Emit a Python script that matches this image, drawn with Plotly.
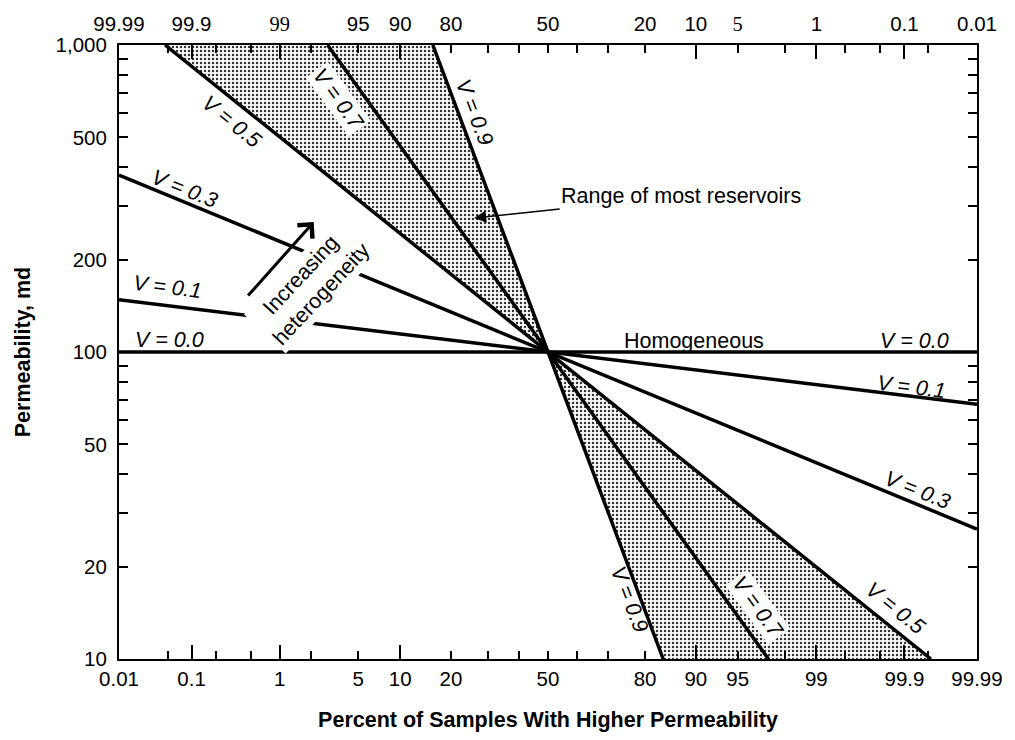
from math import log10
from statistics import NormalDist
import plotly.graph_objects as go

# Dykstra-Parsons permeability-variation lines on log-probability paper.
# Each line is given by its two end points: percent of samples with higher
# permeability, and permeability in md.
v_names = ["V = 0.0", "V = 0.1", "V = 0.3", "V = 0.5", "V = 0.7", "V = 0.9"]
start_pct = [0.01, 0.01, 0.01, 0.045, 2.8, 15.9]
start_k = [100, 148, 377, 1000, 1000, 1000]
end_pct = [99.99, 99.99, 99.99, 99.955, 97.2, 84.1]
end_k = [100, 67.6, 26.5, 10, 10, 10]
median_pct = 50
median_k = 100

# Probability-axis ticks (bottom percent; the top axis reads the complement)
bottom_ticks = [0.01, 0.1, 1, 5, 10, 20, 50, 80, 90, 95, 99, 99.9, 99.99]
bottom_labels = ["0.01", "0.1", "1", "5", "10", "20", "50", "80", "90", "95", "99", "99.9", "99.99"]
top_labels = ["99.99", "99.9", "<span style='font-family:Liberation Serif'>99</span>", "95", "90", "80", "50",
              "20", "10", "<span style='font-family:Liberation Serif'>5</span>", "1", "0.1", "0.01"]
minor_pct = [0.05, 0.2, 0.5, 2, 30, 40, 60, 70, 98, 99.5, 99.8, 99.95]
long_pct = [0.1, 1, 10, 90, 99, 99.9]

# Permeability axis ticks
k_ticks = [10, 20, 50, 100, 200, 500, 1000]
k_labels = ["10", "20", "50", "100", "200", "500", "1,000"]
k_minor = [30, 40, 60, 70, 80, 90, 300, 400, 600, 700, 800, 900]

ND = NormalDist()


def z(p):
    """Normal-probability scale position of a percentage."""
    return ND.inv_cdf(p / 100.0)


FONT = "Liberation Sans, Arial, sans-serif"
xr = [z(0.01), z(99.99)]
TXT = 21.5

fig = go.Figure()

# Stippled band between V = 0.5 and V = 0.9 ("range of most reservoirs")
i5, i9 = v_names.index("V = 0.5"), v_names.index("V = 0.9")
stipple = dict(shape=".", size=4, solidity=0.3, fgcolor="#333333", bgcolor="white", fillmode="replace")
fig.add_trace(go.Scatter(
    x=[z(start_pct[i5]), z(start_pct[i9]), z(median_pct), z(start_pct[i5])],
    y=[start_k[i5], start_k[i9], median_k, start_k[i5]],
    mode="lines", line=dict(width=0), fill="toself", fillcolor="white",
    fillpattern=stipple, hoverinfo="skip", showlegend=False))
fig.add_trace(go.Scatter(
    x=[z(median_pct), z(end_pct[i9]), z(end_pct[i5]), z(median_pct)],
    y=[median_k, end_k[i9], end_k[i5], median_k],
    mode="lines", line=dict(width=0), fill="toself", fillcolor="white",
    fillpattern=stipple, hoverinfo="skip", showlegend=False))

# The variation lines
for name, p0, k0, p1, k1 in zip(v_names, start_pct, start_k, end_pct, end_k):
    fig.add_trace(go.Scatter(
        x=[z(p0), z(p1)], y=[k0, k1], mode="lines", name=name,
        line=dict(color="black", width=3.5), showlegend=False))

# Invisible anchors so the overlay tick axes are drawn
for xa in ["x2", "x3"]:
    fig.add_trace(go.Scatter(x=[0], y=[100], xaxis=xa, yaxis="y", mode="markers",
                             marker=dict(size=1, opacity=0), hoverinfo="skip", showlegend=False))

tickfont = dict(family=FONT, size=20.5, color="black")

fig.update_layout(
    width=1015, height=740,
    margin=dict(l=119, r=32, t=42, b=77),
    paper_bgcolor="white", plot_bgcolor="white",
    xaxis=dict(
        range=xr, tickmode="array", tickvals=[z(p) for p in bottom_ticks], ticktext=bottom_labels,
        ticks="inside", ticklen=8, tickwidth=1.5, tickcolor="black",
        showline=True, linewidth=2, linecolor="black", mirror="allticks",
        showgrid=False, zeroline=False, tickfont=tickfont,
        minor=dict(tickmode="array", tickvals=[z(p) for p in minor_pct], ticks="inside",
                   ticklen=8, tickwidth=1.5, tickcolor="black", showgrid=False),
        title=dict(text="<b>Percent of Samples With Higher Permeability</b>",
                   font=dict(family=FONT, size=TXT, color="black"), standoff=23),
    ),
    xaxis2=dict(
        range=xr, overlaying="x", side="top", anchor="y", tickmode="array",
        tickvals=[z(p) for p in bottom_ticks], ticktext=top_labels, ticks="",
        ticklabelstandoff=9,
        showline=False, showgrid=False, zeroline=False, tickfont=tickfont,
    ),
    xaxis3=dict(
        range=xr, overlaying="x", side="bottom", anchor="y", tickmode="array",
        tickvals=[z(p) for p in long_pct], ticks="inside", ticklen=14, tickwidth=1.5,
        tickcolor="black", mirror="allticks", showticklabels=False,
        showline=False, showgrid=False, zeroline=False,
    ),
    yaxis=dict(
        type="log", range=[1, 3], tickmode="array", tickvals=k_ticks, ticktext=k_labels,
        ticks="inside", ticklen=9, tickwidth=1.5, tickcolor="black",
        showline=True, linewidth=2, linecolor="black", mirror="allticks",
        showgrid=False, zeroline=False, tickfont=tickfont, ticklabelstandoff=6,
        minor=dict(tickmode="array", tickvals=k_minor, ticks="inside",
                   ticklen=9, tickwidth=1.5, tickcolor="black", showgrid=False),
        title=dict(text="<b>Permeability, md</b>",
                   font=dict(family=FONT, size=TXT, color="black"), standoff=19),
    ),
)

# Line labels: (text, axis position z, permeability, rotation, white backing)
labels = [
    ("V = 0.0", -3.28, 109.7, 0, False),
    ("V = 0.1", -3.30, 162.6, 7, False),
    ("V = 0.3", -3.15, 339, 22, False),
    ("V = 0.5", -2.74, 561, 39, False),
    ("V = 0.7", -1.82, 665, 54, True),
    ("V = 0.9", -0.64, 604, 69, False),
    ("V = 0.9", 0.71, 15.6, 69, False),
    ("V = 0.7", 1.82, 14.8, 54, True),
    ("V = 0.5", 3.02, 14.6, 39, False),
    ("V = 0.3", 3.20, 35.5, 22, False),
    ("V = 0.1", 3.15, 76.9, 7, False),
    ("V = 0.0", 3.18, 108.5, 0, False),
]
# annotation positions on a log axis are given in log10 units
for text, zx, k, ang, bg in labels:
    fig.add_annotation(
        x=zx, y=log10(k), xref="x", yref="y", text=f"<i>{text}</i>", showarrow=False,
        textangle=ang, font=dict(family=FONT, size=TXT, color="black"),
        bgcolor="white" if bg else "rgba(0,0,0,0)", borderpad=1)

fig.add_annotation(x=1.265, y=log10(108.5), text="Homogeneous", showarrow=False,
                   font=dict(family=FONT, size=TXT, color="black"))

fig.add_annotation(
    x=-0.64, y=log10(273), text="Range of most reservoirs", showarrow=True,
    ax=207, ay=-22, arrowhead=2, arrowsize=1.6, arrowwidth=1.5, arrowcolor="black",
    font=dict(family=FONT, size=TXT, color="black"))

fig.add_annotation(
    x=-2.048, y=log10(166), text="Increasing<br>heterogeneity", showarrow=False,
    textangle=-47, bgcolor="white", borderpad=2,
    font=dict(family=FONT, size=TXT, color="black"))

fig.add_annotation(
    x=-2.031, y=log10(265), text="", showarrow=True, ax=-67, ay=75,
    arrowhead=4, arrowsize=1.3, arrowwidth=3, arrowcolor="black")

fig.write_html("out.html")
